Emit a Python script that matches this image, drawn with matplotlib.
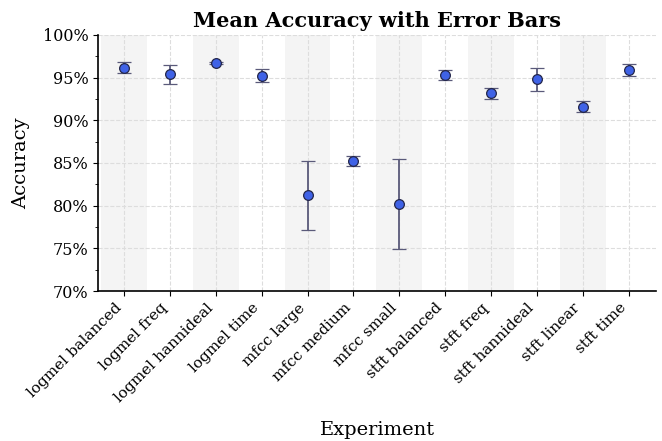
import matplotlib
matplotlib.use("Agg")
import matplotlib.pyplot as plt
from matplotlib.ticker import PercentFormatter, MultipleLocator

plt.rcParams["font.family"] = "DejaVu Serif"

EXPERIMENTS = [
    "logmel balanced", "logmel freq", "logmel hannideal", "logmel time",
    "mfcc large", "mfcc medium", "mfcc small", "stft balanced",
    "stft freq", "stft hannideal", "stft linear", "stft time",
]
MEAN_ACC = [96.15, 95.38, 96.68, 95.23, 81.22, 85.27, 80.22, 95.33,
            93.15, 94.80, 91.58, 95.85]
STD_ACC = [0.62, 1.10, 0.12, 0.78, 4.06, 0.58, 5.27, 0.60,
           0.68, 1.37, 0.65, 0.68]

fig, ax = plt.subplots(figsize=(6.62, 4.41), dpi=100)
fig.subplots_adjust(left=0.148, right=0.991, top=0.921, bottom=0.34)

x = list(range(len(EXPERIMENTS)))

# alternating background bands
for i in x[::2]:
    ax.axvspan(i - 0.5, i + 0.5, color="#f4f4f4", zorder=0, lw=0)

ax.errorbar(x, MEAN_ACC, yerr=STD_ACC, fmt="o", color="#3f62e6",
            markeredgecolor="#23264a", markeredgewidth=0.9, markersize=7,
            ecolor="#5a5a7a", elinewidth=1.3, capsize=5, capthick=1.3, zorder=3)

ax.set_xlim(-0.57, 11.6)
ax.set_ylim(70, 100)
ax.yaxis.set_major_locator(MultipleLocator(5))
ax.yaxis.set_minor_locator(MultipleLocator(2.5))
ax.yaxis.set_major_formatter(PercentFormatter(decimals=0))
ax.set_xticks(x)
ax.set_xticklabels(EXPERIMENTS, rotation=45, ha="right", fontsize=11)
ax.tick_params(axis="y", labelsize=11.5)

ax.set_title("Mean Accuracy with Error Bars", fontsize=15, fontweight="bold", pad=6)
ax.set_xlabel("Experiment", fontsize=14, labelpad=12)
ax.set_ylabel("Accuracy", fontsize=14, labelpad=9)

ax.grid(True, linestyle="--", color="#dddddd", linewidth=0.8, zorder=1)
ax.set_axisbelow(True)
ax.spines["top"].set_visible(False)
ax.spines["right"].set_visible(False)
ax.spines["left"].set_linewidth(1.2)
ax.spines["bottom"].set_linewidth(1.2)

fig.savefig("out.png", dpi=100)
